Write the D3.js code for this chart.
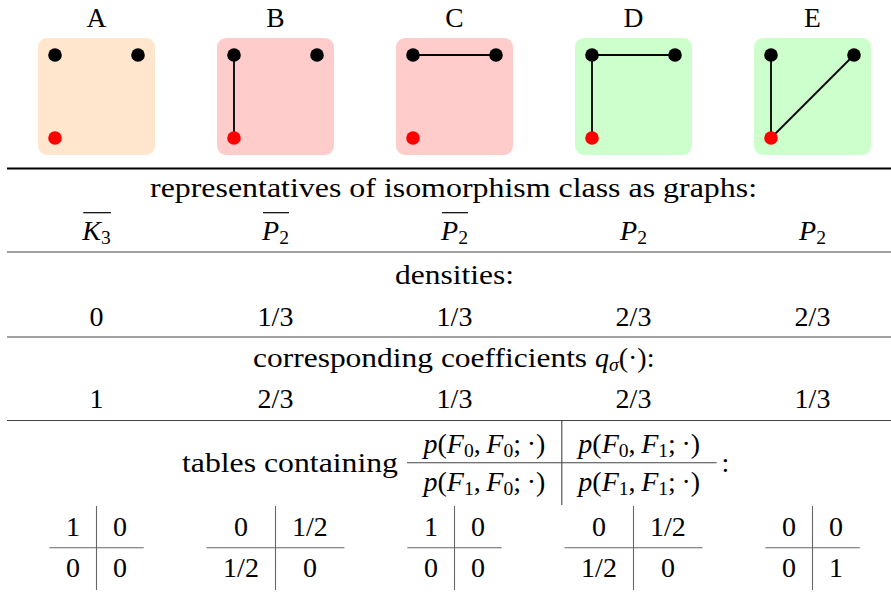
<!DOCTYPE html>
<html><head><meta charset="utf-8">
<script src="https://cdn.jsdelivr.net/npm/d3@7"></script>
<style>body{margin:0;background:#fff} svg{display:block}</style>
</head><body>
<svg id="c" width="891" height="592" font-family="Liberation Serif, serif"></svg>
<script>
// ---- data ----
const categories = ["A","B","C","D","E"];
const boxColors = ["#ffe6cc","#ffcccc","#ffcccc","#ccffcc","#ccffcc"];
const graphNodes = [
  {id:"a", gx:0, gy:0, color:"#000000"},
  {id:"b", gx:1, gy:0, color:"#000000"},
  {id:"r", gx:0, gy:1, color:"#ff0000"}
];
const graphEdges = [
  [],
  [["a","r"]],
  [["a","b"]],
  [["a","b"],["a","r"]],
  [["a","r"],["r","b"]]
];
const graphNames = [["K","3",true],["P","2",true],["P","2",true],["P","2",false],["P","2",false]];
const densities = ["0","1/3","1/3","2/3","2/3"];
const coefficients = ["1","2/3","1/3","2/3","1/3"];
const tables = [
  [["1","0"],["0","0"]],
  [["0","1/2"],["1/2","0"]],
  [["1","0"],["0","0"]],
  [["0","1/2"],["1/2","0"]],
  [["0","0"],["0","1"]]
];
const sectionTitles = ["representatives of isomorphism class as graphs:","densities:","corresponding coefficients ","tables containing"];

// ---- drawing ----
const svg = d3.select("#c");
const FF = "Liberation Serif, serif";
const FS = 28;
const x = d3.scaleBand().domain(categories).range([7, 902]);
const cx = d => x(d) + x.bandwidth()/2;
const BOX = 117;
const inner = d3.scaleLinear().domain([0,1]).range([17,100]);
const byId = Object.fromEntries(graphNodes.map(n=>[n.id,n]));
const TS = "\u2009";

function mathText(sel, parts, px, py, size, anchor){
  const t = sel.append("text").attr("x",px).attr("y",py).attr("font-size",size)
    .attr("font-family",FF).attr("fill","#000").attr("text-anchor",anchor||"middle");
  let shift = 0;
  parts.forEach(p=>{
    const ts = t.append("tspan").text(p.t);
    if(p.i) ts.attr("font-style","italic");
    if(p.len) ts.attr("textLength",p.len).attr("lengthAdjust","spacingAndGlyphs");
    const target = p.s ? size*0.16 : 0;
    if(target!==shift){ ts.attr("dy", target-shift); shift = target; }
    if(p.s) ts.attr("font-size", size*0.7);
  });
  return t;
}

// letters
svg.selectAll("text.lab").data(categories).join("text").attr("class","lab")
  .attr("font-family",FF).attr("x", d=>cx(d)).attr("y", 27).attr("text-anchor","middle").attr("font-size",27.5)
  .text(d=>d);

// graph boxes
categories.forEach((c,i)=>{
  const g = svg.append("g").attr("transform",`translate(${cx(c)-BOX/2},38)`);
  g.append("rect").attr("width",BOX).attr("height",BOX).attr("rx",9).attr("fill",boxColors[i]);
  g.selectAll("line").data(graphEdges[i]).join("line")
    .attr("x1",e=>inner(byId[e[0]].gx)).attr("y1",e=>inner(byId[e[0]].gy))
    .attr("x2",e=>inner(byId[e[1]].gx)).attr("y2",e=>inner(byId[e[1]].gy))
    .attr("stroke","#000").attr("stroke-width",1.8);
  g.selectAll("circle").data(graphNodes).join("circle")
    .attr("cx",n=>inner(n.gx)).attr("cy",n=>inner(n.gy)).attr("r",6.8).attr("fill",n=>n.color);
});

// rules
svg.append("line").attr("x1",7).attr("x2",891).attr("y1",168.5).attr("y2",168.5)
  .attr("stroke","#000").attr("stroke-width",1.8);
[252, 337, 420.5].forEach(yy=>{
  svg.append("line").attr("x1",7).attr("x2",891).attr("y1",yy).attr("y2",yy)
    .attr("stroke","#444").attr("stroke-width",1.1);
});

// section title 1
svg.append("text").attr("font-family",FF).attr("x",150).attr("y",197).attr("font-size",FS)
  .attr("textLength",607).attr("lengthAdjust","spacingAndGlyphs").text(sectionTitles[0]);

// graph names
categories.forEach((c,i)=>{
  const [b,s,bar] = graphNames[i];
  const t = mathText(svg, [{t:b,i:true},{t:s,s:true}], cx(c), 240, FS);
  if(bar){
    const bb = t.node().getBBox();
    svg.append("line").attr("x1",bb.x+2).attr("x2",bb.x+bb.width).attr("y1",212.7).attr("y2",212.7)
      .attr("stroke","#000").attr("stroke-width",1.2);
  }
});

// densities
svg.append("text").attr("font-family",FF).attr("x",395).attr("y",284).attr("font-size",FS)
  .attr("textLength",119).attr("lengthAdjust","spacingAndGlyphs").text(sectionTitles[1]);
svg.selectAll("text.den").data(densities).join("text").attr("class","den").attr("font-family",FF)
  .attr("x",(d,i)=>cx(categories[i])).attr("y",326).attr("text-anchor","middle").attr("font-size",FS).text(d=>d);

// coefficients
mathText(svg, [{t:sectionTitles[2],len:342},{t:"q",i:true},{t:"σ",i:true,s:true},{t:"(·):"}], 253, 367, FS, "start");
svg.selectAll("text.coef").data(coefficients).join("text").attr("class","coef").attr("font-family",FF)
  .attr("x",(d,i)=>cx(categories[i])).attr("y",408).attr("text-anchor","middle").attr("font-size",FS).text(d=>d);

// tables
function drawTable(cells, left, ys, hy, vy0, vy1, stroke, pad){
  const tmp = svg.append("g");
  const widths = [0,1].map(col => d3.max([0,1], row=>{
    const t = mathText(tmp, cells[row][col], 0, 0, FS);
    return t.node().getComputedTextLength();
  }));
  tmp.remove();
  const w0 = widths[0]+2*pad, w1 = widths[1]+2*pad;
  if(left===null) return w0+w1;
  [0,1].forEach(row=>[0,1].forEach(col=>{
    const mx = col===0 ? left + w0/2 : left + w0 + w1/2;
    mathText(svg, cells[row][col], mx, ys[row], FS);
  }));
  svg.append("line").attr("x1",left).attr("x2",left+w0+w1).attr("y1",hy).attr("y2",hy)
    .attr("stroke",stroke).attr("stroke-width",1.1);
  svg.append("line").attr("x1",left+w0).attr("x2",left+w0).attr("y1",vy0).attr("y2",vy1)
    .attr("stroke",stroke).attr("stroke-width",1.1);
  return w0+w1;
}
const P = (a,b)=>[{t:"p",i:true},{t:"("},{t:"F",i:true},{t:a,s:true},{t:","+TS},{t:"F",i:true},{t:b,s:true},{t:";"+TS+"·)"}];
const fracCells = [[P("0","0"),P("0","1")],[P("1","0"),P("1","1")]];

// "tables containing" + fraction + ":"
svg.append("text").attr("font-family",FF).attr("x",182).attr("y",471.5).attr("font-size",FS)
  .attr("textLength",216).attr("lengthAdjust","spacingAndGlyphs").text(sectionTitles[3]);
const fracLeft = 407;
const fw = drawTable(fracCells, fracLeft, [453, 491], 462.7, 420.5, 505, "#444", 16.5);
svg.append("text").attr("font-family",FF).attr("x",fracLeft+fw+5).attr("y",471.5).attr("font-size",FS).text(":");

categories.forEach((c,i)=>{
  const cells = tables[i].map(r=>r.map(v=>[{t:v}]));
  const w = drawTable(cells, null, null, 0, 0, 0, "#666", 16.6);
  drawTable(cells, cx(c)-w/2, [536, 577], 547.7, 506, 590, "#666", 16.6);
});
</script>
</body></html>
